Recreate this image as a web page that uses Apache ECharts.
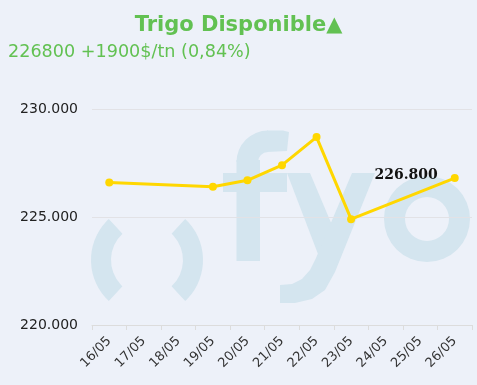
<!DOCTYPE html>
<html>
<head>
<meta charset="utf-8">
<script src="https://cdn.jsdelivr.net/npm/echarts@6/dist/echarts.min.js"></script>
<style>
html,body{margin:0;padding:0;background:#edf1f9;}
#chart{width:477px;height:385px;}
</style>
</head>
<body>
<div id="chart"></div>
<script>
var titleText = 'Trigo Disponible\u25B2';
var subText = '226800 +1900$/tn (0,84%)';
var categories = ['16/05','17/05','18/05','19/05','20/05','21/05','22/05','23/05','24/05','25/05','26/05'];
var prices = [226600, null, null, 226400, 226700, 227400, 228700, 224900, null, null, 226800];
var yMin = 220000, yMax = 230000, yStep = 5000;

function fmt(v){ return String(v).replace(/\B(?=(\d{3})+(?!\d))/g, '.'); }

var wm = '#d4e5ef';
var lastIdx = prices.length - 1;
var seriesData = prices.map(function(v, i){
  if (i === lastIdx) {
    return {value: v, label: {show: true, position: 'left', distance: 13, offset: [0, -3],
      formatter: function(p){ return fmt(p.value); },
      fontFamily: 'DejaVu Serif', fontWeight: 'bold', fontSize: 14, color: '#111'}};
  }
  return v;
});

var chart = echarts.init(document.getElementById('chart'), null, {renderer: 'canvas'});
chart.setOption({
  backgroundColor: '#edf1f9',
  animation: false,
  title: [
    {text: titleText, left: 'center', top: 10,
     textStyle: {fontFamily: 'DejaVu Sans', fontWeight: 'bold', fontSize: 21, color: '#62c152'}},
    {text: subText, left: 3, top: 38,
     textStyle: {fontFamily: 'DejaVu Sans', fontWeight: 'normal', fontSize: 17.6, color: '#62c152'}}
  ],
  graphic: [
    {type: 'group', z: -10, silent: true, children: [
      {type: 'sector', shape: {cx: 147, cy: 260, r: 56, r0: 36, startAngle: Math.PI - 0.82, endAngle: Math.PI + 0.82}, style: {fill: wm}},
      {type: 'sector', shape: {cx: 147, cy: 260, r: 56, r0: 36, startAngle: -0.82, endAngle: 0.82}, style: {fill: wm}},
      {type: 'sector', shape: {cx: 268, cy: 162, r: 31.5, r0: 10, startAngle: Math.PI, endAngle: Math.PI * 1.5}, style: {fill: wm}},
      {type: 'polygon', shape: {points: [[267,130.5],[283,130.5],[289,132],[287,151],[267,152]]}, style: {fill: wm}},
      {type: 'rect', shape: {x: 236.5, y: 160, width: 23.5, height: 101}, style: {fill: wm}},
      {type: 'rect', shape: {x: 223, y: 173, width: 64, height: 19}, style: {fill: wm}},
      {type: 'polygon', shape: {points: [[287,173],[310,173],[340,244],[326,275]]}, style: {fill: wm}},
      {type: 'polygon', shape: {points: [[352,173],[375,173],[335,272],[325,290],[312,299],[295,303],[280,303],[280,285],[292,284],[302,279],[310,270],[316,258]]}, style: {fill: wm}},
      {type: 'sector', shape: {cx: 427, cy: 219, r: 43, r0: 22, startAngle: 0, endAngle: Math.PI * 2}, style: {fill: wm}}
    ]}
  ],
  grid: {left: 92, right: 5, top: 109, bottom: 60},
  xAxis: {
    type: 'category',
    data: categories,
    boundaryGap: true,
    axisLine: {show: true, lineStyle: {color: '#dcdcdc'}},
    axisTick: {show: true, alignWithLabel: false, lineStyle: {color: '#dcdcdc'}},
    axisLabel: {rotate: 45, interval: 0, fontFamily: 'DejaVu Sans', fontSize: 13, color: '#333', margin: 14}
  },
  yAxis: {
    type: 'value',
    min: yMin, max: yMax, interval: yStep,
    axisLine: {show: false},
    axisTick: {show: false},
    splitLine: {lineStyle: {color: '#e2e2e6'}},
    axisLabel: {formatter: function(v){ return fmt(v); }, fontFamily: 'DejaVu Sans', fontSize: 14, color: '#222', margin: 14}
  },
  series: [{
    type: 'line',
    data: seriesData,
    connectNulls: true,
    symbol: 'circle',
    symbolSize: 8,
    lineStyle: {color: '#ffd700', width: 3},
    itemStyle: {color: '#ffd700'},
    z: 5
  }]
});
</script>
</body>
</html>
